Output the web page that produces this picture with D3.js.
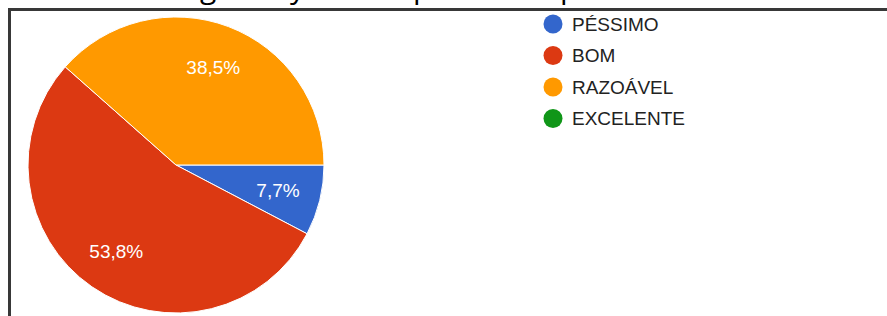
<!DOCTYPE html>
<html>
<head>
<meta charset="utf-8">
<script src="https://cdn.jsdelivr.net/npm/d3@7"></script>
<style>
  body { margin: 0; background: #fff; }
  svg { display: block; }
</style>
</head>
<body>
<div id="chart"></div>
<script>
// answers and counts (13 responses)
var categories = ["PÉSSIMO", "BOM", "RAZOÁVEL", "EXCELENTE"];
var counts = [1, 7, 5, 0];
var colors = ["#3366cc", "#dc3912", "#ff9900", "#109618"];

var width = 887, height = 316;
var cx = 176, cy = 165, radius = 148;

var svg = d3.select("#chart").append("svg")
  .attr("width", width)
  .attr("height", height);

// title is cut off by the crop, only descenders show
var title = svg.append("text")
  .attr("y", -2)
  .style("font-family", "'Open Sans', sans-serif")
  .style("font-size", "30px")
  .attr("fill", "#000");
[["g", 200], ["y", 290], ["p", 413], ["p", 560]].forEach(function(c) {
  title.append("tspan").attr("x", c[1]).text(c[0]);
});

// frame (top and left edges)
svg.append("path")
  .attr("d", "M9.5," + height + "V9.5H" + width)
  .attr("fill", "none")
  .attr("stroke", "#383838")
  .attr("stroke-width", 3);

var total = d3.sum(counts);
var pie = d3.pie().sort(null).value(function(d){ return d; })
  .startAngle(Math.PI / 2).endAngle(Math.PI / 2 + 2 * Math.PI);
var arcs = pie(counts);

var arc = d3.arc().innerRadius(0).outerRadius(radius);
var labelArc = d3.arc().innerRadius(radius * 0.71).outerRadius(radius * 0.71);

var g = svg.append("g").attr("transform", "translate(" + cx + "," + cy + ")");

g.selectAll(".slice")
  .data(arcs.filter(function(d){ return d.value > 0; })).enter()
  .append("path").attr("class", "slice")
  .attr("d", arc)
  .attr("fill", function(d){ return colors[d.index]; })
  .attr("stroke", "#fff")
  .attr("stroke-width", 1);

g.selectAll(".label")
  .data(arcs.filter(function(d){ return d.value > 0; })).enter()
  .append("text").attr("class", "label")
  .attr("transform", function(d){ return "translate(" + labelArc.centroid(d) + ")"; })
  .attr("text-anchor", "middle")
  .attr("dy", "0.36em")
  .style("font-family", "'Liberation Sans', Arial, sans-serif")
  .style("font-size", "19px")
  .attr("fill", "#fff")
  .text(function(d){
    return (d.value / total * 100).toFixed(1).replace(".", ",") + "%";
  });

// legend
var legend = svg.selectAll(".legend")
  .data(categories).enter()
  .append("g").attr("class", "legend")
  .attr("transform", function(d, i){ return "translate(553," + (24 + i * 31.5) + ")"; });

legend.append("circle")
  .attr("r", 9.5)
  .attr("fill", function(d, i){ return colors[i]; });

legend.append("text")
  .attr("x", 19)
  .attr("dy", "0.36em")
  .style("font-family", "'Liberation Sans', Arial, sans-serif")
  .style("font-size", "19px")
  .attr("fill", "#222")
  .text(function(d){ return d; });
</script>
</body>
</html>
